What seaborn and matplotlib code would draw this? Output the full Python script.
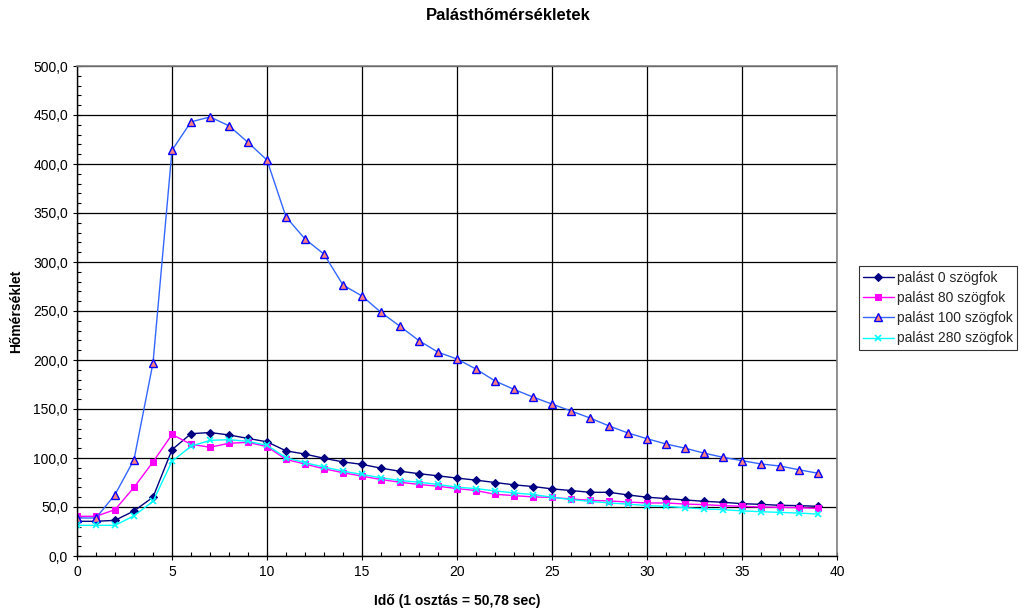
import numpy as np
import pandas as pd
import matplotlib
matplotlib.use("Agg")
import matplotlib.pyplot as plt
import seaborn as sns
from matplotlib.ticker import MultipleLocator, FuncFormatter

sns.set_theme(style="white")
plt.rcParams['font.family'] = ['Liberation Sans', 'DejaVu Sans']

# time steps (1 osztás = 50,78 sec)
ido = list(range(40))

palast_0 = [35.4, 35.4, 36.4, 46.0, 60.0, 108.5, 124.8, 126.0, 123.5, 120.0,
            116.5, 107.3, 104.0, 99.7, 96.0, 93.5, 89.6, 86.5, 84.0, 81.8,
            79.5, 77.4, 75.0, 72.6, 70.9, 68.5, 66.8, 65.0, 65.0, 62.3,
            60.0, 58.6, 57.2, 55.8, 54.8, 53.4, 52.7, 51.7, 51.4, 50.7]

palast_80 = [40.5, 40.5, 47.3, 70.0, 96.0, 124.0, 114.0, 111.0, 115.0, 116.0,
             111.6, 98.6, 93.8, 89.0, 85.0, 81.5, 78.0, 75.3, 73.0, 71.2,
             68.8, 66.8, 63.0, 61.6, 60.3, 59.8, 58.2, 56.8, 56.2, 55.1,
             54.1, 54.1, 53.0, 52.4, 51.4, 50.7, 50.0, 49.7, 49.3, 48.6]

palast_100 = [38.8, 38.8, 62.6, 98.3, 197.0, 414.0, 443.0, 448.0, 439.0, 422.0,
              404.0, 346.0, 323.5, 308.0, 276.5, 265.3, 248.6, 234.4, 219.7, 208.0,
              201.0, 190.8, 178.6, 170.0, 162.2, 155.0, 148.0, 140.8, 132.7, 125.5,
              119.7, 114.3, 110.0, 105.0, 100.7, 97.3, 93.9, 91.8, 88.0, 84.4]

palast_280 = [31.3, 31.3, 31.3, 41.0, 55.8, 96.6, 112.0, 118.0, 118.7, 117.0,
              113.0, 100.3, 95.2, 90.8, 86.6, 83.2, 79.8, 77.0, 75.3, 73.0,
              70.2, 68.8, 66.4, 64.4, 62.7, 60.0, 57.5, 55.8, 54.1, 53.0,
              51.4, 50.7, 49.3, 48.0, 47.3, 46.0, 45.2, 44.5, 43.8, 42.8]

series = [
    ("palást 0 szögfok", palast_0, dict(color="#000080", marker="D", markersize=4.5,
                                         markerfacecolor="#000080", markeredgecolor="#000080")),
    ("palást 80 szögfok", palast_80, dict(color="#FF00FF", marker="s", markersize=5,
                                           markerfacecolor="#FF00FF", markeredgecolor="#FF00FF")),
    ("palást 100 szögfok", palast_100, dict(color="#3366FF", marker="^", markersize=6,
                                             markerfacecolor="#FF8080", markeredgecolor="#0000FF",
                                             markeredgewidth=1.0)),
    ("palást 280 szögfok", palast_280, dict(color="#00FFFF", marker="x", markersize=5,
                                             markeredgecolor="#00FFFF", markeredgewidth=1.2)),
]

fig = plt.figure(figsize=(10.22, 6.12), dpi=100)
ax = fig.add_axes([77 / 1022, 56 / 612, 760 / 1022, 490 / 612])

for label, vals, style in series:
    df = pd.DataFrame({"ido": ido, "T": vals})
    sns.lineplot(data=df, x="ido", y="T", ax=ax, label=label, linewidth=1.0, **style)

# seaborn may override marker face colours, so set them again
for line, (_, _, style) in zip(ax.get_lines(), series):
    if "markerfacecolor" in style:
        line.set_markerfacecolor(style["markerfacecolor"])
    line.set_markeredgecolor(style["markeredgecolor"])

ax.set_xlim(0, 40)
ax.set_ylim(0, 500)
ax.xaxis.set_major_locator(MultipleLocator(5))
ax.xaxis.set_minor_locator(MultipleLocator(1))
ax.yaxis.set_major_locator(MultipleLocator(50))
ax.yaxis.set_minor_locator(MultipleLocator(10))
ax.yaxis.set_major_formatter(FuncFormatter(lambda v, p: f"{v:.1f}".replace(".", ",")))

ax.grid(True, which="major", color="black", linewidth=0.9)
ax.set_axisbelow(True)
ax.tick_params(axis="both", which="major", direction="inout", length=6, width=0.8,
               color="black", labelsize=10, labelcolor="black")
ax.tick_params(axis="both", which="minor", direction="in", length=3, width=0.8, color="black")
ax.tick_params(axis="x", which="both", bottom=True)
ax.tick_params(axis="y", which="both", left=True)

for side in ["top", "right"]:
    ax.spines[side].set_color("#808080")
    ax.spines[side].set_linewidth(1.2)
for side in ["left", "bottom"]:
    ax.spines[side].set_color("black")
    ax.spines[side].set_linewidth(1.0)

ax.set_xlabel("Idő (1 osztás = 50,78 sec)", fontsize=10, fontweight="bold", color="black")
ax.set_ylabel("Hőmérséklet", fontsize=10, fontweight="bold", color="black")
ax.xaxis.set_label_coords(0.5, -0.078)
ax.yaxis.set_label_coords(-0.071, 0.5)

fig.text(508 / 1022, 1 - 16 / 612, "Palásthőmérsékletek", ha="center", va="center",
         fontsize=12, fontweight="bold", color="black")

leg = ax.legend(loc="center left", bbox_to_anchor=(859 / 1022, 1 - 308 / 612),
                bbox_transform=fig.transFigure, frameon=True, fancybox=False,
                fontsize=10, handlelength=2.2, borderpad=0.3, labelspacing=0.45,
                handletextpad=0.2, borderaxespad=0)
leg.get_frame().set_edgecolor("black")
leg.get_frame().set_linewidth(0.8)

fig.savefig("out.png", dpi=100, facecolor="white")
